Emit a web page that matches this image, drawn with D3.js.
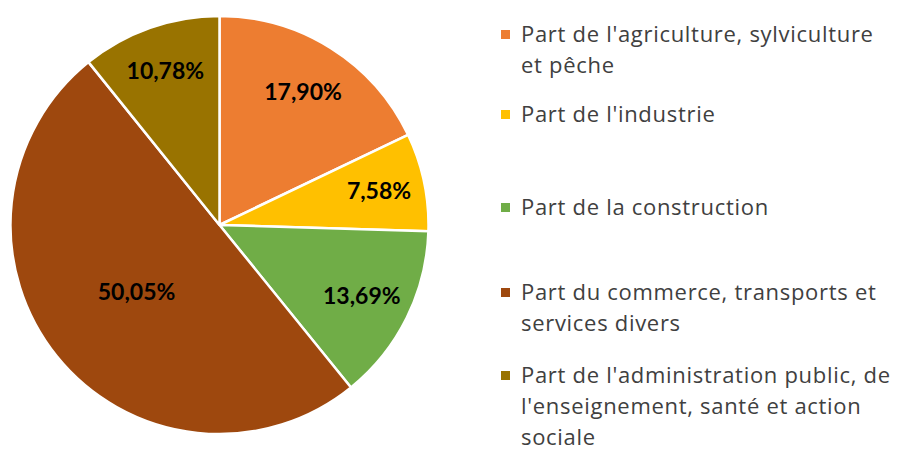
<!DOCTYPE html>
<html lang="fr">
<head>
	<meta charset="UTF-8">
	<title>Répartition par secteur</title>
	<script src="https://cdn.jsdelivr.net/npm/d3@7"></script>
	<style>
		body { margin: 0; background: #fff; }
	</style>
</head>
<body>
	<div id="chart"></div>
<script>
// données
var secteurs = [
	["Part de l'agriculture, sylviculture", "et pêche"],
	["Part de l'industrie"],
	["Part de la construction"],
	["Part du commerce, transports et", "services divers"],
	["Part de l'administration public, de", "l'enseignement, santé et action", "sociale"]
];
var parts = [17.90, 7.58, 13.69, 50.05, 10.78];
var couleurs = ["#ED7D31", "#FFC000", "#70AD47", "#9E480E", "#997300"];

var W = 901, H = 453;
var cx = 219.5, cy = 225, R = 209;

var svg = d3.select("#chart").append("svg")
	.attr("width", W)
	.attr("height", H);

var pie = d3.pie().sort(null).value(function(d){ return d; });
var arcs = pie(parts);

var arc = d3.arc().innerRadius(0).outerRadius(R);

var g = svg.append("g").attr("transform", "translate(" + cx + "," + cy + ")");

g.selectAll("path")
	.data(arcs)
	.enter().append("path")
	.attr("d", arc)
	.attr("fill", function(d,i){ return couleurs[i]; })
	.attr("stroke", "#fff")
	.attr("stroke-width", 2.5)
	.attr("stroke-linejoin", "round");

// position des étiquettes (fraction du rayon), la grosse part plus au centre
var rayonEtiq = [0.75, 0.78, 0.76, 0.51, 0.78];
var fmt = function(v){ return v.toFixed(2).replace(".", ",") + "%"; };

g.selectAll("text.val")
	.data(arcs)
	.enter().append("text")
	.attr("class", "val")
	.attr("transform", function(d,i){
		var r = R * rayonEtiq[i];
		var c = d3.arc().innerRadius(r).outerRadius(r).centroid(d);
		return "translate(" + c[0] + "," + c[1] + ")";
	})
	.attr("text-anchor", "middle")
	.attr("dy", "0.35em")
	.style("font-family", "Lato, 'Open Sans', sans-serif")
	.style("font-weight", "bold")
	.style("font-size", "23px")
	.style("fill", "#000")
	.text(function(d){ return fmt(d.data); });

// légende
var lx = 501, tx = 521;
var baselines = [42, 122, 215, 300, 383];
var lh = 31;

var leg = svg.selectAll("g.leg")
	.data(secteurs)
	.enter().append("g")
	.attr("class", "leg");

leg.append("rect")
	.attr("x", lx)
	.attr("y", function(d,i){ return baselines[i] - 12; })
	.attr("width", 9)
	.attr("height", 9)
	.attr("fill", function(d,i){ return couleurs[i]; });

leg.append("text")
	.attr("x", tx)
	.attr("y", function(d,i){ return baselines[i]; })
	.style("font-family", "'Open Sans', sans-serif")
	.style("font-size", "22px")
	.style("letter-spacing", "0.7px")
	.style("fill", "#404040")
	.selectAll("tspan")
	.data(function(d){ return d; })
	.enter().append("tspan")
	.attr("x", tx)
	.attr("dy", function(d,j){ return j === 0 ? 0 : lh; })
	.text(function(d){ return d; });
</script>
</body>
</html>
